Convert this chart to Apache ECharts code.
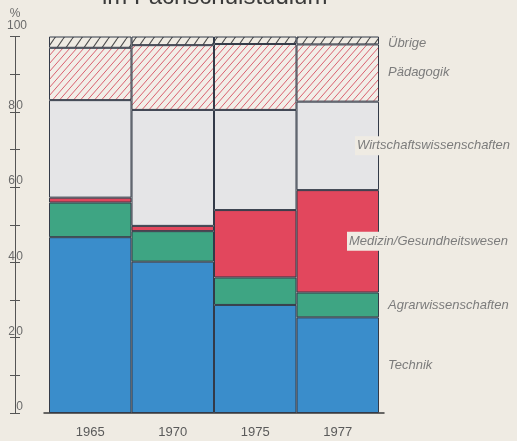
<!DOCTYPE html>
<html>
<head>
<meta charset="utf-8">
<script src="https://cdn.jsdelivr.net/npm/echarts@6/dist/echarts.min.js"></script>
<style>
  html, body { margin: 0; padding: 0; background: #efebe3; }
  #chart { width: 517px; height: 441px; }
</style>
</head>
<body>
<div id="chart"></div>
<script>
// Anteile der Fachrichtungen (in %) je Jahr
const years = ['1965', '1970', '1975', '1977'];
const technik = [46.7, 40.2, 28.7, 25.4];
const agrar = [9.2, 8.1, 7.3, 6.6];
const medizin = [1.3, 1.4, 17.9, 27.2];
const wirtschaft = [25.9, 30.8, 26.6, 23.5];
const paedagogik = [13.9, 17.2, 17.5, 15.2];
const uebrige = [3.0, 2.3, 2.0, 2.1];

const seriesNames = ['Technik', 'Agrarwissenschaften', 'Medizin/Gesundheitswesen',
  'Wirtschaftswissenschaften', 'Pädagogik', 'Übrige'];
const yTickLabels = ['0', '20', '40', '60', '80', '100'];

const PAGE = '#efebe3';
const BORDER = '#333a48';

// diagonal hatch tile used as a repeating fill
function hatch(bg, line, w, h, lw) {
  const c = document.createElement('canvas');
  c.width = w; c.height = h;
  const g = c.getContext('2d');
  g.fillStyle = bg;
  g.fillRect(0, 0, w, h);
  g.strokeStyle = line;
  g.lineWidth = lw;
  g.beginPath();
  for (const k of [-1, 0, 1]) {
    g.moveTo(k * w, h);
    g.lineTo((k + 1) * w, 0);
  }
  g.stroke();
  return c;
}

const fills = [
  '#3a8dcb',
  '#3ea583',
  '#e2475d',
  '#e5e5e7',
  { image: hatch('#f2eee8', '#d9606f', 7, 8, 1), repeat: 'repeat' },
  { image: hatch(PAGE, '#4f4f4f', 9, 13, 1.1), repeat: 'repeat' }
];

// label placement beside the last bar (long names pulled left onto a plate)
const labelOffsets = [[0, 0], [0, 0], [-41, 0], [-33, 0], [0, -1], [0, 3]];
const labelPlates = [false, false, true, true, false, false];

const values = [technik, agrar, medizin, wirtschaft, paedagogik, uebrige];

const series = values.map((vals, si) => ({
  name: seriesNames[si],
  type: 'bar',
  stack: 'total',
  xAxisIndex: 0,
  yAxisIndex: 0,
  barWidth: '100%',
  itemStyle: { color: fills[si], borderColor: BORDER, borderWidth: 1 },
  emphasis: { disabled: true },
  data: vals.map((v, i) => i === vals.length - 1 ? {
    value: v,
    label: {
      show: true,
      position: 'right',
      distance: 9,
      offset: labelOffsets[si],
      formatter: seriesNames[si],
      color: '#7c7c7c',
      fontStyle: 'italic',
      fontSize: 13,
      fontFamily: 'Liberation Sans',
      backgroundColor: labelPlates[si] ? PAGE : 'transparent',
      padding: labelPlates[si] ? [3, 2, 3, 2] : 0
    }
  } : v)
}));

function tickLabel(v) {
  const s = String(v);
  if (!yTickLabels.includes(s)) return '';
  if (s === '100') return '{h|' + s + '}';
  if (s.length === 1) return '{l|}{r|' + s + '}';
  return '{l|' + s.slice(0, -1) + '}{r|' + s.slice(-1) + '}';
}

const tickText = { color: '#6a6a6a', fontSize: 12, fontFamily: 'Liberation Sans' };

const chart = echarts.init(document.getElementById('chart'), null, { renderer: 'canvas' });
chart.setOption({
  backgroundColor: PAGE,
  animation: false,
  title: {
    text: 'im Fachschulstudium',
    left: 102,
    top: -15,
    padding: 0,
    textStyle: { color: '#3a3a3a', fontSize: 24, fontWeight: 'normal', fontFamily: 'Liberation Sans' }
  },
  grid: [
    { left: 49, right: 138, top: 36.5, bottom: 28 },
    { left: 15, right: 501, top: 36.5, bottom: 28 },
    { left: 44, right: 133, top: 36.5, bottom: 28 }
  ],
  xAxis: [
    {
      gridIndex: 0, type: 'category', data: years,
      axisLine: { show: false }, axisTick: { show: false },
      axisLabel: { color: '#5a5a5a', fontSize: 13, margin: 13, fontFamily: 'Liberation Sans' }
    },
    { gridIndex: 1, type: 'value', show: false },
    {
      gridIndex: 2, type: 'value', min: 0, max: 1,
      axisLine: { show: true, lineStyle: { color: '#3a3a3a', width: 1.5 } },
      axisTick: { show: false }, axisLabel: { show: false }, splitLine: { show: false }
    }
  ],
  yAxis: [
    { gridIndex: 0, type: 'value', min: 0, max: 100, show: false },
    {
      gridIndex: 1, type: 'value', min: 0, max: 100, interval: 10, position: 'left',
      name: '%', nameLocation: 'end', nameGap: 17,
      nameTextStyle: { color: '#6a6a6a', fontSize: 12, fontFamily: 'Liberation Sans', align: 'center' },
      axisLine: { show: true, lineStyle: { color: '#555' } },
      axisTick: { show: true, inside: false, length: 5, lineStyle: { color: '#555' } },
      splitLine: { show: false },
      axisLabel: {
        margin: 0, align: 'center', verticalAlign: 'bottom',
        formatter: tickLabel,
        ...tickText,
        rich: {
          l: { ...tickText, width: 8, align: 'right' },
          r: { ...tickText, width: 8, align: 'right' },
          h: { ...tickText, padding: [0, 0, 5, 4] }
        }
      }
    },
    {
      gridIndex: 1, type: 'value', min: 0, max: 100, interval: 10, position: 'left',
      axisLine: { show: false },
      axisTick: { show: true, inside: true, length: 5, lineStyle: { color: '#555' } },
      axisLabel: { show: false }, splitLine: { show: false }
    },
    { gridIndex: 2, type: 'value', show: false }
  ],
  series: series
});
</script>
</body>
</html>
